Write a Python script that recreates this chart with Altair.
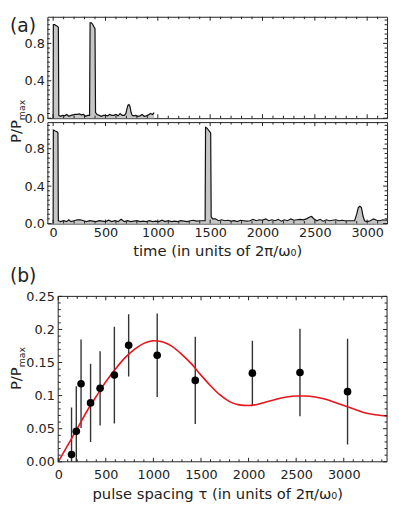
import altair as alt
import pandas as pd

FONT = "DejaVu Sans"

# ---------------- panel (a): measured power traces ----------------
t_top = [0, 2, 15, 30, 45, 50, 54, 70, 90, 110, 130, 150, 170, 190, 210, 230, 250, 270, 290,
         310, 330, 348, 353, 365, 380, 392, 400, 405, 420, 440, 460, 480, 500, 520, 540, 560,
         580, 600, 620, 640, 660, 680, 695, 705, 715, 725, 735, 745, 755, 770, 790, 810, 830,
         850, 870, 890, 910, 930, 950, 965]
p_top = [0.0, 1.00, 1.00, 0.99, 0.98, 0.97, 0.03, 0.02, 0.03, 0.025, 0.04, 0.02, 0.03, 0.035,
         0.04, 0.04, 0.045, 0.035, 0.04, 0.02, 0.03, 0.03, 1.02, 1.02, 1.00, 0.97, 0.96, 0.06,
         0.04, 0.03, 0.02, 0.03, 0.03, 0.025, 0.04, 0.03, 0.03, 0.04, 0.025, 0.05, 0.03, 0.03,
         0.05, 0.10, 0.14, 0.145, 0.12, 0.06, 0.03, 0.025, 0.03, 0.02, 0.025, 0.04, 0.02, 0.025,
         0.035, 0.05, 0.04, 0.06]

t_bot = [0, 2, 20, 40, 46, 50, 70, 100, 130, 150, 170, 200, 230, 260, 290, 320, 350, 380, 410,
         440, 470, 500, 530, 560, 590, 620, 650, 680, 710, 740, 770, 800, 830, 860, 890, 920,
         950, 980, 1010, 1040, 1070, 1100, 1130, 1160, 1190, 1220, 1250, 1280, 1310, 1340, 1370,
         1400, 1430, 1452, 1456, 1470, 1490, 1505, 1510, 1525, 1550, 1580, 1610, 1640, 1670,
         1700, 1730, 1760, 1790, 1820, 1850, 1880, 1910, 1940, 1970, 2000, 2030, 2060, 2090,
         2120, 2150, 2180, 2210, 2240, 2270, 2300, 2330, 2360, 2390, 2420, 2450, 2470, 2490,
         2520, 2550, 2580, 2610, 2640, 2670, 2700, 2730, 2760, 2790, 2820, 2850, 2880, 2900,
         2915, 2930, 2945, 2960, 2975, 3000, 3030, 3060, 3090, 3120, 3150, 3180, 3190]
p_bot = [0.0, 1.00, 0.99, 0.98, 0.97, 0.03, 0.02, 0.03, 0.02, 0.04, 0.02, 0.03, 0.04, 0.04,
         0.03, 0.02, 0.03, 0.025, 0.02, 0.03, 0.025, 0.02, 0.035, 0.02, 0.03, 0.02, 0.045, 0.02,
         0.03, 0.02, 0.025, 0.03, 0.02, 0.025, 0.02, 0.03, 0.02, 0.025, 0.02, 0.035, 0.02, 0.03,
         0.02, 0.025, 0.02, 0.03, 0.025, 0.02, 0.03, 0.035, 0.025, 0.03, 0.03, 0.03, 1.03, 1.02,
         0.99, 0.97, 0.07, 0.05, 0.05, 0.03, 0.04, 0.03, 0.035, 0.025, 0.03, 0.02, 0.035, 0.03,
         0.025, 0.03, 0.045, 0.03, 0.04, 0.035, 0.05, 0.03, 0.04, 0.03, 0.045, 0.025, 0.04, 0.03,
         0.05, 0.035, 0.04, 0.045, 0.04, 0.05, 0.07, 0.075, 0.05, 0.03, 0.045, 0.025, 0.04, 0.03,
         0.035, 0.04, 0.03, 0.035, 0.03, 0.03, 0.03, 0.03, 0.10, 0.17, 0.185, 0.17, 0.08, 0.03,
         0.02, 0.03, 0.05, 0.035, 0.03, 0.04, 0.035, 0.04]

# ---------------- panel (b): measurements and model ----------------
tau = [140, 190, 240, 340, 440, 590, 740, 1040, 1440, 2040, 2540, 3040]
p_meas = [0.011, 0.046, 0.118, 0.089, 0.111, 0.131, 0.176, 0.161, 0.123, 0.134, 0.135, 0.106]
p_err = [0.071, 0.068, 0.067, 0.059, 0.056, 0.073, 0.047, 0.063, 0.066, 0.049, 0.066, 0.080]

tau_fit = [0, 100, 200, 300, 400, 500, 600, 700, 800, 900, 1000, 1100, 1200, 1300, 1400, 1500,
           1600, 1700, 1800, 1900, 2000, 2100, 2200, 2300, 2400, 2500, 2600, 2700, 2800, 2900,
           3000, 3100, 3200, 3300, 3400, 3455]
p_fit = [0.0, 0.025, 0.050, 0.076, 0.099, 0.121, 0.140, 0.157, 0.170, 0.179, 0.183, 0.181,
         0.174, 0.162, 0.148, 0.131, 0.115, 0.101, 0.091, 0.086, 0.085, 0.087, 0.091, 0.095,
         0.098, 0.0995, 0.0995, 0.098, 0.095, 0.090, 0.085, 0.080, 0.075, 0.072, 0.070, 0.069]

# tick positions
xa_major = [0, 500, 1000, 1500, 2000, 2500, 3000]
xa_minor = [v for v in range(0, 3200, 100) if v % 500 != 0]
ya_labels = [0.0, 0.4, 0.8]
ya_minor = [0.05, 0.1, 0.15, 0.2, 0.25, 0.3, 0.35, 0.45, 0.5, 0.55, 0.6, 0.65, 0.7, 0.75,
            0.85, 0.9, 0.95, 1.0, 1.05]
xb_major = [0, 500, 1000, 1500, 2000, 2500, 3000]
xb_minor = [v for v in range(0, 3455, 100) if v % 500 != 0]
yb_major = [0.0, 0.05, 0.1, 0.15, 0.2, 0.25]
yb_minor = [0.01, 0.02, 0.03, 0.04, 0.06, 0.07, 0.08, 0.09, 0.11, 0.12, 0.13, 0.14,
            0.16, 0.17, 0.18, 0.19, 0.21, 0.22, 0.23, 0.24]
xb_edges = [0, 3455]

W, H_A, H_B = 345, 103, 168
B_SHIFT = 11  # panel (b) frame starts 11 px right of panel (a)
XS_A = alt.Scale(domain=[-55, 3190], nice=False, zero=False)
YS_A = alt.Scale(domain=[0, 1.085], nice=False)
XS_B = alt.Scale(domain=[-113.8, 3455], nice=False, zero=False)
YS_B = alt.Scale(domain=[0, 0.25], nice=False)


def label(text, x, y, size, angle=0, align="left"):
    return alt.Chart(pd.DataFrame({"s": [text]})).mark_text(
        font=FONT, fontSize=size, angle=angle, align=align, baseline="alphabetic",
        color="#222").encode(text="s:N", x=alt.value(x), y=alt.value(y))


def tick_layers(values, xenc_fn, yenc_fn, channel, x0, x1, H, length):
    df = pd.DataFrame({"v": values})
    base = alt.Chart(df).mark_rule(color="#222", strokeWidth=1)
    if channel == "x":
        enc = xenc_fn("v")
        return [base.encode(x=enc, y=alt.value(H), y2=alt.value(H - length)),
                base.encode(x=enc, y=alt.value(0), y2=alt.value(length))]
    enc = yenc_fn("v")
    return [base.encode(y=enc, x=alt.value(x0), x2=alt.value(x0 + length)),
            base.encode(y=enc, x=alt.value(x1), x2=alt.value(x1 - length))]


def trace(t, p, show_x):
    df = pd.DataFrame({"t": t, "p": p})
    if show_x:
        xax = alt.Axis(values=xa_major, format="d", ticks=False, domain=False, grid=False,
                       labelPadding=3, title="time (in units of 2π/ω₀)", titlePadding=4)
    else:
        xax = alt.Axis(values=xa_major, ticks=False, domain=False, grid=False, labels=False,
                       title="")
    yax = alt.Axis(values=ya_labels, format=".1f", ticks=False, domain=False, grid=False,
                   labelPadding=3, title="")
    xf = lambda f: alt.X(f"{f}:Q", scale=XS_A, axis=xax)
    yf = lambda f: alt.Y(f"{f}:Q", scale=YS_A, axis=yax)
    area = alt.Chart(df).mark_area(color="#c6c6c6", opacity=1).encode(x=xf("t"), y=yf("p"))
    line = alt.Chart(df).mark_line(color="#111", strokeWidth=1.2).encode(x=xf("t"), y=yf("p"))
    layers = [area, line]
    layers += tick_layers(xa_major, xf, yf, "x", 0, W, H_A, 4)
    layers += tick_layers(xa_minor, xf, yf, "x", 0, W, H_A, 2.5)
    layers += tick_layers(ya_labels, xf, yf, "y", 0, W, H_A, 4)
    layers += tick_layers(ya_minor, xf, yf, "y", 0, W, H_A, 2.5)
    return layers


top_layers = trace(t_top, p_top, False)
top_layers += [label("(a)", -38, 15, 19),
               label("P/P", -27, H_A + 2, 15, angle=270, align="right"),
               label("max", -23, H_A + 2, 9.5, angle=270, align="left")]
a_top = alt.layer(*top_layers).properties(width=W, height=H_A)

a_bot = alt.layer(*trace(t_bot, p_bot, True)).properties(width=W, height=H_A)

# spacer between panel (a) and panel (b)
gap = alt.Chart(pd.DataFrame({"z": [0]})).mark_point(opacity=0).encode(
    x=alt.X("z:Q", axis=None), y=alt.Y("z:Q", axis=None)).properties(
    width=W, height=66, view=alt.ViewBackground(stroke="transparent"))

# panel (b)
dfb = pd.DataFrame({"tau": tau, "p": p_meas, "lo": [m - e for m, e in zip(p_meas, p_err)],
                    "hi": [m + e for m, e in zip(p_meas, p_err)]})
dff = pd.DataFrame({"tau": tau_fit, "p": p_fit})
dfe = pd.DataFrame({"a": [xb_edges[0]], "b": [xb_edges[1]]})

xb_ax = alt.Axis(values=xb_major, format="d", ticks=False, domain=False, grid=False,
                 labelPadding=7, title="pulse spacing τ (in units of 2π/ω₀)", titlePadding=5)
yb_ax = alt.Axis(values=yb_major, ticks=False, domain=False, grid=False, labelPadding=4,
                 offset=-B_SHIFT,
                 labelExpr="datum.value == 0 ? '0.00' : format(datum.value, '.2~f')", title="")
xbf = lambda f: alt.X(f"{f}:Q", scale=XS_B, axis=xb_ax)
ybf = lambda f: alt.Y(f"{f}:Q", scale=YS_B, axis=yb_ax)

bars = alt.Chart(dfb).mark_rule(color="#333", strokeWidth=1.4, clip=True).encode(
    x=xbf("tau"), y=ybf("lo"), y2="hi:Q")
fit = alt.Chart(dff).mark_line(color="#e8151b", strokeWidth=1.6, interpolate="monotone").encode(
    x=xbf("tau"), y=ybf("p"))
pts = alt.Chart(dfb).mark_circle(color="#000", size=60, opacity=1).encode(
    x=xbf("tau"), y=ybf("p"))

frame_base = alt.Chart(dfe).mark_rule(color="#222", strokeWidth=1)
frame = [frame_base.encode(x=xbf("a"), x2="b:Q", y=alt.value(0)),
         frame_base.encode(x=xbf("a"), x2="b:Q", y=alt.value(H_B)),
         frame_base.encode(x=xbf("a"), y=alt.value(0), y2=alt.value(H_B)),
         frame_base.encode(x=xbf("b"), y=alt.value(0), y2=alt.value(H_B))]

b_layers = [bars, fit, pts] + frame
b_layers += tick_layers(xb_major, xbf, ybf, "x", B_SHIFT, W, H_B, 4)
b_layers += tick_layers(xb_minor, xbf, ybf, "x", B_SHIFT, W, H_B, 2.5)
b_layers += tick_layers(yb_major, xbf, ybf, "y", B_SHIFT, W, H_B, 4)
b_layers += tick_layers(yb_minor, xbf, ybf, "y", B_SHIFT, W, H_B, 2.5)
b_layers += [label("(b)", -38, -15, 19),
             label("P/P", -27, 72, 15, angle=270, align="right"),
             label("max", -23, 72, 9.5, angle=270, align="left")]
panel_b = alt.layer(*b_layers).properties(
    width=W, height=H_B, view=alt.ViewBackground(stroke="transparent"))

chart = alt.vconcat(a_top, a_bot, gap, panel_b, spacing=4, bounds="flush").properties(
    padding={"left": 0, "top": 4, "right": 0, "bottom": 0}
).configure(background="white").configure_view(
    stroke="#222", strokeWidth=1
).configure_axis(
    labelFont=FONT, titleFont=FONT, labelFontSize=13, titleFontSize=15,
    titleFontWeight="normal", labelColor="#222", titleColor="#222"
)

chart.save("out.html", embed_options={"renderer": "svg", "actions": False})
